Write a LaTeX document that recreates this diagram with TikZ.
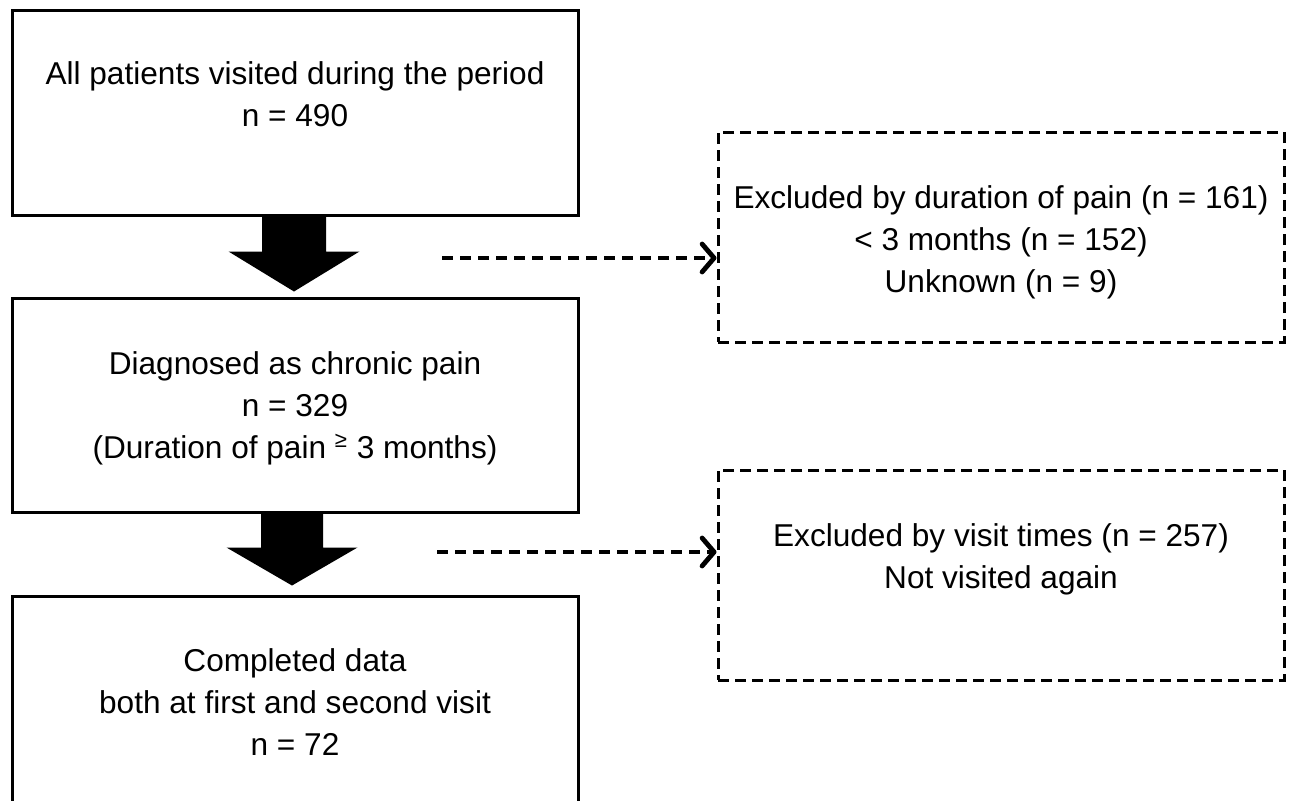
\documentclass[tikz,border=0pt]{standalone}
\usepackage{fontspec}
\setmainfont{Liberation Sans}
\usepackage{tikz}
\usetikzlibrary{arrows.meta, calc}

\begin{document}
\begin{tikzpicture}[
    x=0.5pt, y=-0.5pt,
    box style/.style={draw, line width=1.5pt, align=center, minimum width=283pt,
        font=\fontsize{15.8pt}{21pt}\selectfont},
    excl style/.style={box style, line width=1.5pt, dash pattern=on 5.5pt off 3pt},
    block arrow/.style={fill=black},
    dash arrow/.style={line width=2.4pt, dash pattern=on 5.5pt off 3.5pt,
        -{Straight Barb[length=6pt, width=14pt, round]}}
]

% Fix the page size
\useasboundingbox (0,0) rectangle (1290,800);
\clip (0,0) rectangle (1290,800);

% Draw the main boxes
\node[box style, minimum height=102.5pt] (all) at (295,112.5)
    {All patients visited during the period\\ n = 490\\[-9pt] \strut};
\node[box style, minimum height=107pt] (chronic) at (295,405)
    {\strut Diagnosed as chronic pain\\ n = 329\\ (Duration of pain \textsuperscript{≥} 3 months)};
\node[box style, minimum height=106pt] (complete) at (295,702)
    {Completed data\\ both at first and second visit\\ n = 72};

% Draw the exclusion boxes
\node[excl style, minimum height=105pt] (exdur) at (1001,237)
    {\rule{0pt}{17pt}Excluded by duration of pain (n = 161)\\ < 3 months (n = 152)\\ Unknown (n = 9)};
\node[excl style, minimum height=105pt] (exvis) at (1001,575)
    {Excluded by visit times (n = 257)\\ Not visited again\\[-8pt] \strut};

% Draw the block arrows
\fill[block arrow] ($(all.south)+(-33,0)$) -- ++(0,35) -- ++(-33.5,0)
    -- ($(all.south)+(-1,75)$) -- ($(all.south)+(64.5,35)$) -- ++(-33.5,0)
    -- ($(all.south)+(31,0)$) -- cycle;
\fill[block arrow] ($(chronic.south)+(-34,0)$) -- ++(0,34) -- ++(-34.5,0)
    -- ($(chronic.south)+(-3,72)$) -- ($(chronic.south)+(62.5,34)$) -- ++(-34.5,0)
    -- ($(chronic.south)+(28,0)$) -- cycle;

% Draw the dashed arrows
\coordinate (d1) at (442,258);
\coordinate (d2) at (437,552);
\draw[dash arrow] (d1) -- (d1 -| exdur.west);
\draw[dash arrow] (d2) -- (d2 -| exvis.west);
\end{tikzpicture}
\end{document}
